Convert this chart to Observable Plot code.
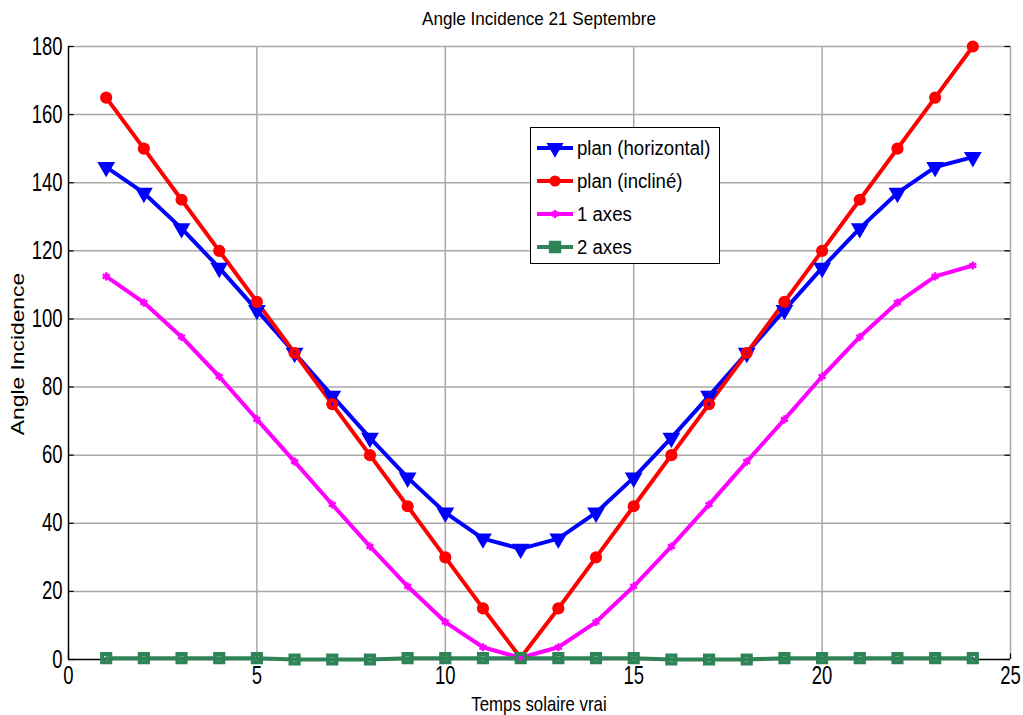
<!DOCTYPE html>
<html>
<head>
<meta charset="utf-8">
<script src="https://cdn.jsdelivr.net/npm/d3@7"></script>
<script src="https://cdn.jsdelivr.net/npm/@observablehq/plot@0.6"></script>
<style>
  html, body { margin: 0; padding: 0; background: #fff; }
  #wrap { position: relative; width: 1023px; height: 715px; overflow: hidden; font-family: "Liberation Sans", Arial, sans-serif; }
  .lbl { position: absolute; white-space: nowrap; color: #000; }
  #title { left: 539px; top: 8px; font-size: 19px; transform: translateX(-50%) scaleX(0.9); }
  #xlabel { left: 539px; top: 692px; font-size: 21px; transform: translateX(-50%) scaleX(0.8); }
  #ylabel { left: 18px; top: 354px; font-size: 19px; transform: translate(-50%, -50%) rotate(-90deg) scaleX(1.2); }
  #legend { position: absolute; left: 530px; top: 127px; width: 188px; height: 135px; border: 1.5px solid #000; background: #fff; }
  #legend .row { position: absolute; left: 0; height: 30px; display: flex; align-items: center; }
  #legend .row span { font-size: 20px; margin-left: 4px; color: #000; display: inline-block; transform-origin: left center; transform: scaleX(0.93); white-space: nowrap; }
</style>
</head>
<body>
<div id="wrap">
  <div id="chart"></div>
  <div id="title" class="lbl">Angle Incidence 21 Septembre</div>
  <div id="xlabel" class="lbl">Temps solaire vrai</div>
  <div id="ylabel" class="lbl">Angle Incidence</div>
  <div id="legend"></div>
</div>
<script>
// ---- Data ----
const hours = [1,2,3,4,5,6,7,8,9,10,11,12,13,14,15,16,17,18,19,20,21,22,23,24];
const planHorizontal = [144.6,137,126.6,115,102.6,90,77.4,65.1,53.4,43.1,35.5,32.5,35.5,43.1,53.4,65.1,77.4,90,102.6,115,126.6,137,144.6,147.5];
const planIncline = [165,150,135,120,105,90,75,60,45,30,15,0.5,15,30,45,60,75,90,105,120,135,150,165,180];
const unAxe = [112.5,104.8,94.7,83.1,70.5,58.1,45.5,33.2,21.5,11,3.6,0.5,3.6,11,21.5,33.2,45.5,58.1,70.5,83.1,94.7,104.8,112.5,115.7];
const deuxAxes = [0.4,0.4,0.4,0.4,0.4,0,0,0,0.4,0.4,0.4,0.4,0.4,0.4,0.4,0,0,0,0.4,0.4,0.4,0.4,0.4,0.4];
const seriesNames = ["plan (horizontal)", "plan (incliné)", "1 axes", "2 axes"];
const xTicks = [0,5,10,15,20,25];
const yTicks = [0,20,40,60,80,100,120,140,160,180];

const colors = ["#0000ff", "#ff0000", "#ff00ff", "#2e8457"];
const symbols = ["triangle", "circle", "asterisk", "square"];
const allSeries = [planHorizontal, planIncline, unAxe, deuxAxes];

const rows = [];
allSeries.forEach((vals, s) => vals.forEach((v, i) => rows.push({x: hours[i], y: v, s})));

const gridColor = "#a9a9a9";
const marks = [
  Plot.ruleX(xTicks.slice(1), {stroke: gridColor, strokeWidth: 1.5}),
  Plot.ruleY(yTicks.slice(1), {stroke: gridColor, strokeWidth: 1.5}),
  Plot.ruleX([0], {stroke: "#000", strokeWidth: 1.5}),
  Plot.ruleY([0], {stroke: "#000", strokeWidth: 1.5}),
  // inward ticks
  Plot.ruleY(yTicks, {x1: 0, x2: 0.15, stroke: "#000", strokeWidth: 1.2}),
  Plot.ruleY(yTicks, {x1: 24.85, x2: 25, stroke: "#000", strokeWidth: 1.2}),
  Plot.ruleX(xTicks, {y1: 0, y2: 1.6, stroke: "#000", strokeWidth: 1.2}),
  // tick labels
  Plot.text(yTicks, {x: 0, y: d => d, text: d => String(d), textAnchor: "end", dx: -6, fontSize: 25, fill: "#000", className: "ylab"}),
  Plot.text(xTicks, {x: d => d, y: 0, text: d => String(d), lineAnchor: "top", dy: 7, fontSize: 25, fill: "#000", className: "xlab"})
];
allSeries.forEach((vals, s) => {
  const data = rows.filter(d => d.s === s);
  marks.push(Plot.line(data, {x: "x", y: "y", stroke: colors[s], strokeWidth: 4}));
});
allSeries.forEach((vals, s) => {
  const data = rows.filter(d => d.s === s);
  const opts = {x: "x", y: "y", stroke: colors[s], fill: "none"};
  if (s === 0) Object.assign(opts, {symbol: "triangle", r: 3.9, strokeWidth: 4.2, rotate: 180});
  if (s === 1) Object.assign(opts, {symbol: "circle", r: 3.9, strokeWidth: 4.4});
  if (s === 2) Object.assign(opts, {symbol: "asterisk", r: 3.8, strokeWidth: 2.4});
  if (s === 3) Object.assign(opts, {symbol: "square", r: 4.6, strokeWidth: 4});
  marks.push(Plot.dot(data, opts));
});

const chart = Plot.plot({
  width: 1023,
  height: 715,
  marginLeft: 68,
  marginRight: 13,
  marginTop: 46,
  marginBottom: 56,
  x: {domain: [0, 25], axis: null},
  y: {domain: [0, 180], axis: null},
  style: {fontFamily: "'Liberation Sans', Arial, sans-serif", background: "#fff", overflow: "visible"},
  marks
});
document.getElementById("chart").appendChild(chart);

// Narrow the tick labels (reference uses a condensed face): append a horizontal scale about each anchor
chart.querySelectorAll("g.ylab text, g.xlab text").forEach(t => {
  const tr = t.getAttribute("transform");
  if (tr) {
    t.setAttribute("transform", tr + " scale(0.74,1)");
  } else {
    const g = document.createElementNS("http://www.w3.org/2000/svg", "g");
    t.parentNode.insertBefore(g, t);
    g.appendChild(t);
    const x = parseFloat(t.getAttribute("x")) || 0;
    g.setAttribute("transform", `translate(${x},0) scale(0.74,1) translate(${-x},0)`);
  }
});

// Legend
const legend = document.getElementById("legend");
seriesNames.forEach((name, i) => {
  const row = document.createElement("div");
  row.className = "row";
  row.style.top = (5 + i * 33) + "px";
  const svg = d3.create("svg").attr("width", 42).attr("height", 30);
  svg.append("line").attr("x1", 6).attr("x2", 42).attr("y1", 15).attr("y2", 15)
    .attr("stroke", colors[i]).attr("stroke-width", 4);
  const sym = {triangle: d3.symbolTriangle, circle: d3.symbolCircle, asterisk: d3.symbolAsterisk, square: d3.symbolSquare}[symbols[i]];
  const size = [70, 60, 44, 96][i];
  svg.append("path").attr("d", d3.symbol(sym, size)())
    .attr("transform", `translate(24,15) rotate(${i === 0 ? 180 : 0})`)
    .attr("fill", colors[i]).attr("stroke", colors[i]).attr("stroke-width", 2.5);
  row.appendChild(svg.node());
  const t = document.createElement("span");
  t.textContent = name;
  row.appendChild(t);
  legend.appendChild(row);
});
</script>
</body>
</html>
